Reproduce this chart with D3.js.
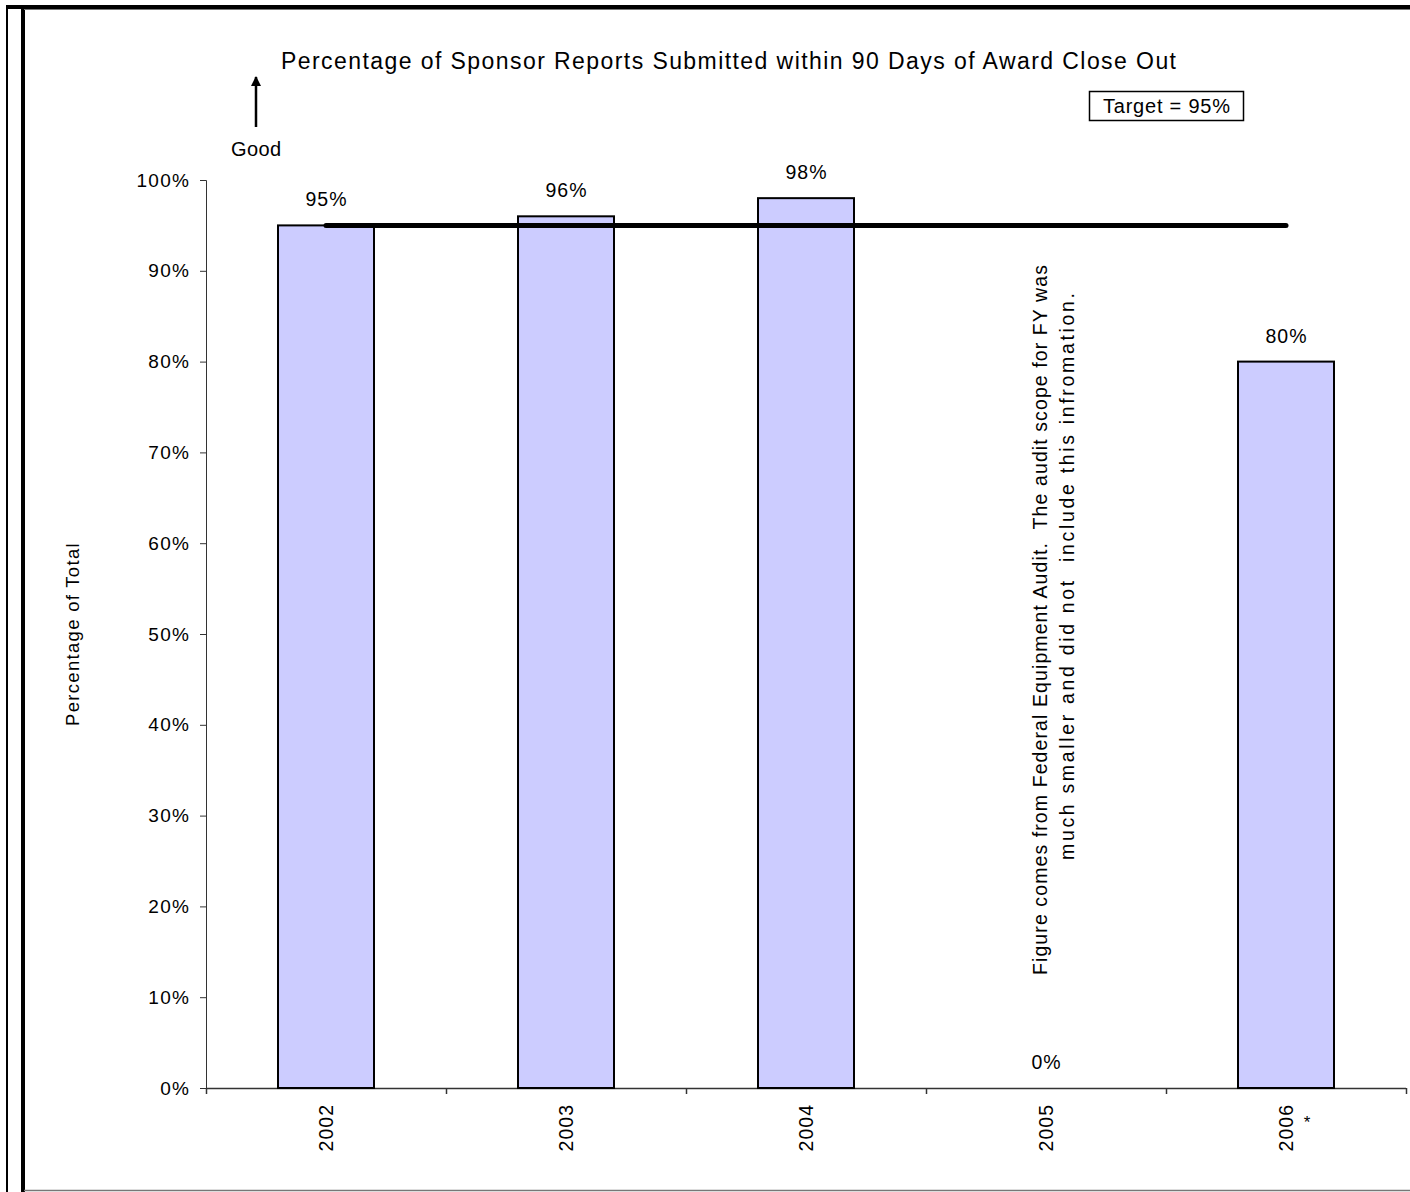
<!DOCTYPE html>
<html>
<head>
<meta charset="utf-8">
<script src="https://cdn.jsdelivr.net/npm/d3@7"></script>
<style>
  html, body { margin: 0; padding: 0; background: #fff; }
  svg { display: block; font-family: "Liberation Sans", Arial, sans-serif; }
  svg text { white-space: pre; }
</style>
</head>
<body>
<svg id="chart" width="1410" height="1192"></svg>
<script>
// Fiscal years and the share of sponsor reports submitted on time
const years = ["2002", "2003", "2004", "2005", "2006"];
const percentages = [95, 96, 98, 0, 80];
const footnoteMarks = ["", "", "", "", "*"];
const targetValue = 95;
const yTicks = [0, 10, 20, 30, 40, 50, 60, 70, 80, 90, 100];
const noteLines = [
  "Figure comes from Federal Equipment Audit.  The audit scope for FY was",
  "much smaller and did not  include this infromation."
];

const svg = d3.select("#chart");

// Frame lines around the sheet
svg.append("line").attr("x1", 7).attr("x2", 7).attr("y1", 5).attr("y2", 1192)
  .attr("stroke", "#000").attr("stroke-width", 2);
svg.append("line").attr("x1", 23).attr("x2", 23).attr("y1", 5).attr("y2", 1192)
  .attr("stroke", "#000").attr("stroke-width", 4);
svg.append("line").attr("x1", 6).attr("x2", 1410).attr("y1", 7).attr("y2", 7)
  .attr("stroke", "#000").attr("stroke-width", 4);
svg.append("line").attr("x1", 24).attr("x2", 1410).attr("y1", 9.5).attr("y2", 9.5)
  .attr("stroke", "#777").attr("stroke-width", 1);
svg.append("line").attr("x1", 24).attr("x2", 1410).attr("y1", 1190.5).attr("y2", 1190.5)
  .attr("stroke", "#777").attr("stroke-width", 1.5);

const plot = { left: 206, right: 1406, top: 180, bottom: 1088 };

const x = d3.scaleBand().domain(years).range([plot.left, plot.right]).paddingInner(0).paddingOuter(0);
const y = d3.scaleLinear().domain([0, 100]).range([plot.bottom, plot.top]);
const barWidth = x.bandwidth() * 0.4;

// Title
svg.append("text").attr("x", 281).attr("y", 69)
  .attr("font-size", 23).attr("textLength", 895).attr("lengthAdjust", "spacing")
  .text("Percentage of Sponsor Reports Submitted within 90 Days of Award Close Out");

// Target box
const tg = svg.append("g");
tg.append("rect").attr("x", 1089.5).attr("y", 91.5).attr("width", 154).attr("height", 29)
  .attr("fill", "#fff").attr("stroke", "#000").attr("stroke-width", 1.5);
tg.append("text").attr("x", 1103).attr("y", 113)
  .attr("font-size", 20).attr("textLength", 127).attr("lengthAdjust", "spacing")
  .text("Target = " + targetValue + "%");

// "Good" direction arrow
svg.append("defs").append("marker").attr("id", "arrowHead")
  .attr("viewBox", "0 0 10 10").attr("refX", 9).attr("refY", 5)
  .attr("markerWidth", 12).attr("markerHeight", 10).attr("markerUnits", "userSpaceOnUse")
  .attr("orient", "auto")
  .append("path").attr("d", "M0,0 L10,5 L0,10 Z").attr("fill", "#000");
svg.append("line").attr("x1", 256).attr("x2", 256).attr("y1", 127).attr("y2", 77)
  .attr("stroke", "#000").attr("stroke-width", 2.5).attr("marker-end", "url(#arrowHead)");
svg.append("text").attr("x", 231).attr("y", 156)
  .attr("font-size", 20).attr("textLength", 50).attr("lengthAdjust", "spacing").text("Good");

// Y axis
const yAxis = d3.axisLeft(y).tickValues(yTicks).tickFormat(d => d + "%").tickSize(6).tickPadding(10);
const yg = svg.append("g").attr("transform", `translate(${plot.left},0)`).call(yAxis);
yg.select(".domain").attr("stroke", "#333");
yg.selectAll(".tick line").attr("stroke", "#333");
yg.selectAll(".tick text").attr("font-size", 19).attr("fill", "#000")
  .attr("letter-spacing", 1.2)
  .attr("font-family", "'Liberation Sans', Arial, sans-serif");

svg.append("text").attr("transform", `translate(79,${(plot.top + plot.bottom) / 2}) rotate(-90)`)
  .attr("text-anchor", "middle").attr("font-size", 18.5).attr("letter-spacing", 1.3)
  .text("Percentage of Total");

// X axis with ticks on band boundaries
const xg = svg.append("g").attr("transform", `translate(0,${plot.bottom})`);
xg.append("line").attr("x1", plot.left).attr("x2", plot.right).attr("y1", 0.5).attr("y2", 0.5)
  .attr("stroke", "#333").attr("stroke-width", 1.5);
const boundaries = years.map(d => x(d)).concat([x(years[years.length - 1]) + x.bandwidth()]);
xg.selectAll("line.tick").data(boundaries).join("line").attr("class", "tick")
  .attr("x1", d => d + 0.5).attr("x2", d => d + 0.5).attr("y1", 0).attr("y2", 6)
  .attr("stroke", "#333").attr("stroke-width", 1.5);

xg.selectAll("text.year").data(years).join("text").attr("class", "year")
  .attr("transform", d => `translate(${x(d) + x.bandwidth() / 2},16) rotate(-90)`)
  .attr("text-anchor", "end").attr("font-size", 19.5).attr("dy", "0.35em")
  .attr("letter-spacing", 1)
  .text(d => d);
xg.selectAll("text.mark").data(years.map((d, i) => ({ year: d, mark: footnoteMarks[i] })).filter(d => d.mark))
  .join("text").attr("class", "mark")
  .attr("x", d => x(d.year) + x.bandwidth() / 2 + 21).attr("y", 40)
  .attr("text-anchor", "middle").attr("font-size", 17).text(d => d.mark);

// Bars
const data = years.map((d, i) => ({ year: d, value: percentages[i] }));
svg.selectAll("rect.bar").data(data.filter(d => d.value > 0)).join("rect").attr("class", "bar")
  .attr("x", d => x(d.year) + (x.bandwidth() - barWidth) / 2)
  .attr("y", d => y(d.value))
  .attr("width", barWidth)
  .attr("height", d => y(0) - y(d.value))
  .attr("fill", "#CCCCFF").attr("stroke", "#000").attr("stroke-width", 2);

// Target line across category centres
const line = d3.line().x(d => x(d) + x.bandwidth() / 2).y(() => y(targetValue));
svg.append("path").attr("d", line(years)).attr("fill", "none")
  .attr("stroke", "#000").attr("stroke-width", 5).attr("stroke-linecap", "round");

// Value labels
svg.selectAll("text.value").data(data).join("text").attr("class", "value")
  .attr("x", d => x(d.year) + x.bandwidth() / 2 + 0.5)
  .attr("y", d => y(d.value) - 19)
  .attr("text-anchor", "middle").attr("font-size", 19.5).attr("letter-spacing", 1)
  .text(d => d.value + "%");

// Note about the 2005 figure
const noteX = x("2005") + x.bandwidth() / 2;
const note = svg.append("g");
note.append("text").attr("transform", `translate(${noteX - 6},975) rotate(-90)`)
  .attr("dy", "0.35em").attr("font-size", 19.5)
  .attr("textLength", 710).attr("lengthAdjust", "spacing").text(noteLines[0]);
note.append("text").attr("transform", `translate(${noteX + 21},860) rotate(-90)`)
  .attr("dy", "0.35em").attr("font-size", 19.5)
  .attr("textLength", 567).attr("lengthAdjust", "spacing").text(noteLines[1]);
</script>
</body>
</html>
